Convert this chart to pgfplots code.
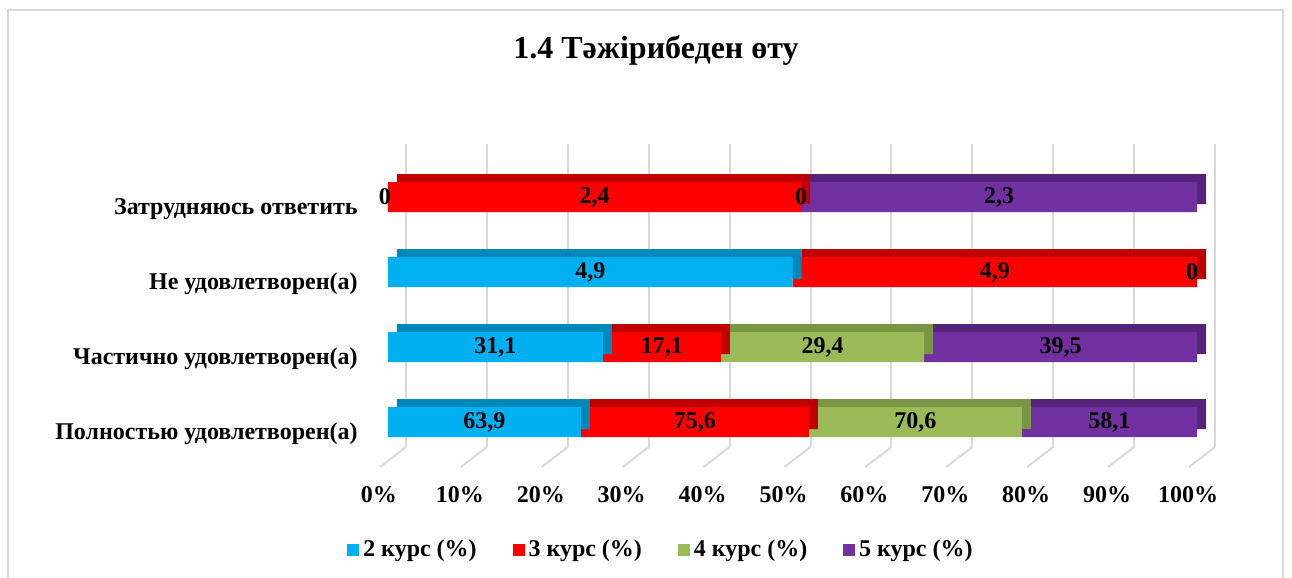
\documentclass[border=0pt]{standalone}
\usepackage{fontspec}
\setmainfont{Liberation Serif}
\usepackage{pgfplots}
\pgfplotsset{compat=1.18}
\usepackage{pgfplotstable}
\definecolor{c2}{HTML}{00B0F0}
\definecolor{c2d}{HTML}{0088BA}
\definecolor{c3}{HTML}{FF0000}
\definecolor{c3d}{HTML}{C00000}
\definecolor{c4}{HTML}{9BBB59}
\definecolor{c4d}{HTML}{7A9546}
\definecolor{c5}{HTML}{7030A0}
\definecolor{c5d}{HTML}{55247A}
\definecolor{gridc}{HTML}{D9D9D9}

% y: 0 Полностью, 1 Частично, 2 Не удовлетворен, 3 Затрудняюсь
% v = shown values, p = share of the row (%), m = middle of each segment (%)
\pgfplotstableread{
y  v2   v3   v4   v5   p2     p3     p4     p5     m2      m3      m4      m5
0  63.9 75.6 70.6 58.1 23.83  28.19  26.32  21.66  11.915  37.925  65.18   89.17
1  31.1 17.1 29.4 39.5 26.56  14.60  25.11  33.73  13.28   33.86   53.715  83.135
2  4.9  4.9  0    0    50.00  50.00  0      0      25.00   75.00   99.4    99.4
3  0    2.4  0    2.3  0      51.06  0      48.94  -0.4    25.53   51.06   75.53
}\data

\pgfplotsset{
  geom/.style={at={(194pt,65.5pt)}, anchor=south west,
    scale only axis, width=404.5pt, height=151.5pt, clip=false,
    xmin=0, xmax=100, ymin=-0.333, ymax=3.707},
  sq/.style={legend image code/.code={\fill[#1] (0pt,-2.75pt) rectangle (5.5pt,2.75pt);}},
  lab/.style={only marks, mark=*, mark size=0pt, draw=none, fill=none, forget plot},
}

\begin{document}
\begin{tikzpicture}
\useasboundingbox (0pt,0pt) rectangle (646pt,289pt);
\draw[gridc, line width=1pt] (4pt,-5pt) -- (4pt,284pt) -- (641.5pt,284pt) -- (641.5pt,-5pt);
\node[font=\bfseries\fontsize{16}{19}\selectfont] at (328pt,263.5pt) {1.4 Тәжірибеден өту};
\begin{axis}[
  geom,
  xbar stacked, bar width=15pt,
  axis line style={draw=none}, major tick length=0pt,
  xtick={0,10,...,100},
  xticklabels={0\%,10\%,20\%,30\%,40\%,50\%,60\%,70\%,80\%,90\%,100\%},
  xticklabel style={font=\bfseries\fontsize{12}{14}\selectfont, anchor=center, yshift=-24pt, xshift=-4.5pt},
  ytick={0,1,2,3},
  yticklabels={Полностью удовлетворен(а),Частично удовлетворен(а),Не удовлетворен(а),Затрудняюсь ответить},
  yticklabel style={font=\bfseries\fontsize{12}{14}\selectfont, anchor=east, inner sep=0pt, xshift=-15pt, yshift=-6pt},
  xmajorgrids, major grid style={gridc, line width=1pt, transform canvas={xshift=9pt}},
]
\addplot[fill=c2, draw=none, preaction={fill=c2d, transform canvas={xshift=4.5pt,yshift=4pt}}]
  table[x=p2, y=y] {\data};
\addplot[fill=c3, draw=none, preaction={fill=c3d, transform canvas={xshift=4.5pt,yshift=4pt}}]
  table[x=p3, y=y] {\data};
\addplot[fill=c4, draw=none, preaction={fill=c4d, transform canvas={xshift=4.5pt,yshift=4pt}}]
  table[x=p4, y=y] {\data};
\addplot[fill=c5, draw=none, preaction={fill=c5d, transform canvas={xshift=4.5pt,yshift=4pt}}]
  table[x=p5, y=y] {\data};
\pgfplotsinvokeforeach{0,10,20,30,40,50,60,70,80,90,100}{
  \draw[gridc, line width=1pt] ([xshift=9pt]axis cs:#1,-0.333) -- ++(-13pt,-10pt);
}
\end{axis}
% labels and legend on top
\begin{axis}[
  geom, hide axis,
  point meta=explicit,
  nodes near coords={\pgfmathprintnumber[assume math mode=true,fixed,precision=1,use comma]{\pgfplotspointmeta}},
  nodes near coords style={font=\bfseries\fontsize{12}{14}\selectfont, black, anchor=center},
  legend columns=4,
  legend style={at={(0.3387,-0.34)}, anchor=center, draw=none, fill=none,
     font=\bfseries\fontsize{12}{14}\selectfont,
     /tikz/every even column/.append style={column sep=16pt}},
]
\addplot[lab] table[x=m2, y=y, meta=v2] {\data};
\addplot[lab] table[x=m3, y=y, meta=v3] {\data};
\addplot[lab] table[x=m4, y=y, meta=v4] {\data};
\addplot[lab] table[x=m5, y=y, meta=v5] {\data};
\addlegendimage{sq=c2}
\addlegendimage{sq=c3}
\addlegendimage{sq=c4}
\addlegendimage{sq=c5}
\legend{2 курс (\%),3 курс (\%),4 курс (\%),5 курс (\%)}
\end{axis}
\end{tikzpicture}
\end{document}
